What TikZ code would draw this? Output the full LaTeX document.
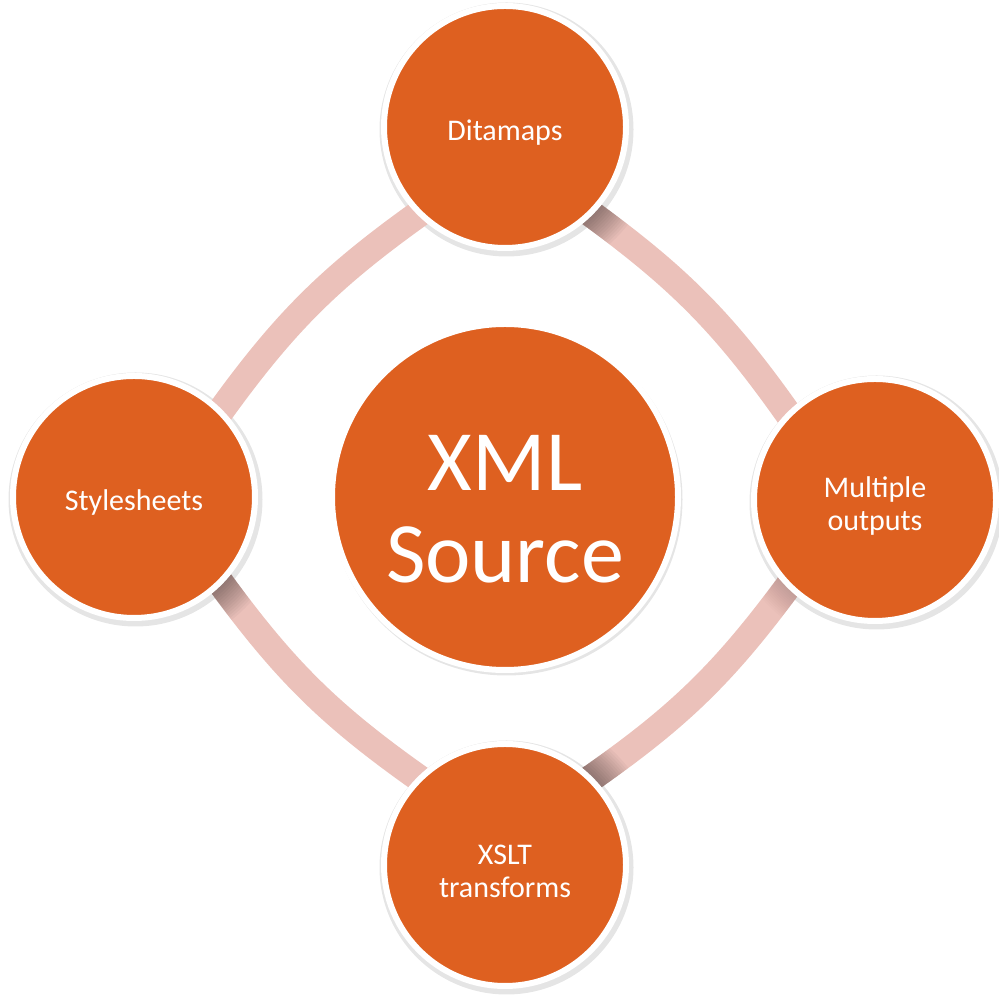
\documentclass[tikz,border=0pt]{standalone}
\usepackage{fontspec}
\setmainfont{Carlito}
\definecolor{xorange}{HTML}{DE6020}
\definecolor{xpink}{HTML}{EBC1BA}
\pgfdeclarelayer{bg}
\pgfsetlayers{bg,main}
\begin{document}
\begin{tikzpicture}[x=1pt,y=1pt,
  bubble/.style={circle, fill=xorange, draw=white, line width=6pt, inner sep=0pt,
    minimum size=242pt},
  hub/.style={bubble, minimum size=346pt},
  lab/.style={text=white, align=center, inner sep=0pt, yshift=-6pt,
    font=\fontsize{30}{33}\selectfont},
  hublab/.style={lab, yshift=-6pt, font=\fontsize{86}{92}\selectfont},
  ring/.style={draw=xpink, line width=27pt, shorten <=-30pt, shorten >=-30pt},
  ringshade/.style={ring, draw=black, opacity=#1},
  softshadow/.style={fill=black, opacity=0.10}]
\useasboundingbox (0,0) rectangle (999,995);

\node[hub, label={[hublab]center:{XML\\Source}}] (xml) at (505,498) {};
\node[bubble, label={[lab]center:{Ditamaps}}] (dita) at (505,868) {};
\node[bubble, label={[lab]center:{Multiple\\outputs}}] (multi) at (875,495) {};
\node[bubble, label={[lab]center:{XSLT\\transforms}}] (xslt) at (505,130) {};
\node[bubble, label={[lab]center:{Stylesheets}}] (style) at (134,498) {};

\begin{pgfonlayer}{bg}
  % faint shadows of the circles
  \fill[softshadow] ([shift={(1.5,-2.5)}]xml.center) circle (176);
  \foreach \n in {dita,multi,xslt,style}
    \fill[softshadow] ([shift={(1.5,-2.5)}]\n.center) circle (127);
  % connecting ring
  \draw[ring] (dita.-45) to[bend left=10] (multi.135);
  \draw[ring] (multi.225) to[bend left=10] (xslt.45);
  \draw[ring] (xslt.135) to[bend left=10] (style.-45);
  \draw[ring] (style.45) to[bend left=10] (dita.225);
  % shadows cast on the ring near the circles
  \foreach \i in {1,...,14}{
    \begin{scope}
      \clip (dita.center) circle ({122+2.5*\i});
      \draw[ringshade=0.032] (dita.-45) to[bend left=10] (multi.135);
    \end{scope}
    \begin{scope}
      \clip (style.center) circle ({122+2.5*\i});
      \draw[ringshade=0.032] (xslt.135) to[bend left=10] (style.-45);
    \end{scope}
    \begin{scope}
      \clip (xslt.center) circle ({122+2.5*\i});
      \draw[ringshade=0.03] (multi.225) to[bend left=10] (xslt.45);
    \end{scope}
    \begin{scope}
      \clip (multi.center) circle ({122+2*\i});
      \draw[ringshade=0.012] (multi.225) to[bend left=10] (xslt.45);
    \end{scope}
  }
\end{pgfonlayer}
\end{tikzpicture}
\end{document}
